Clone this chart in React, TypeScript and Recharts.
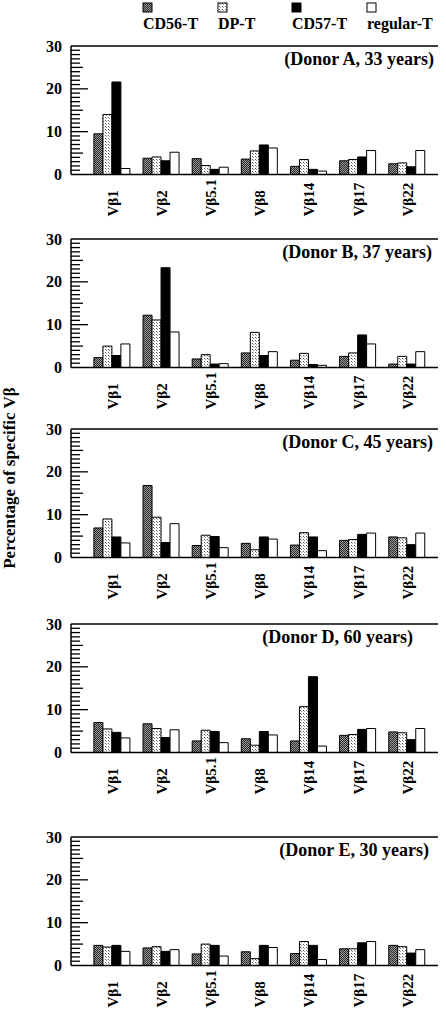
import React from 'react'
import { BarChart, Bar, XAxis, YAxis, ReferenceLine } from 'recharts'

const categories = ['Vβ1', 'Vβ2', 'Vβ5.1', 'Vβ8', 'Vβ14', 'Vβ17', 'Vβ22']
const seriesNames = ['CD56-T', 'DP-T', 'CD57-T', 'regular-T']
const donorLabels = [
  '(Donor A, 33 years)',
  '(Donor B, 37 years)',
  '(Donor C, 45 years)',
  '(Donor D, 60 years)',
  '(Donor E, 30 years)',
]
const yTickLabels = [0, 10, 20, 30]
const innerTicks = [
  1, 2, 3, 4, 5, 6, 7, 8, 9, 10, 11, 12, 13, 14, 15, 16, 17, 18, 19, 20, 21, 22, 23, 24, 25, 26, 27, 28, 29,
]

// percentage of specific Vβ, one array per donor and cell type
const aCD56 = [9.5, 3.8, 3.7, 3.6, 1.9, 3.2, 2.5]
const aDP = [14.0, 4.1, 2.1, 5.5, 3.5, 3.5, 2.7]
const aCD57 = [21.6, 3.2, 1.2, 6.9, 1.2, 4.1, 1.8]
const aReg = [1.4, 5.2, 1.7, 6.2, 0.8, 5.6, 5.6]

const bCD56 = [2.3, 12.2, 2.0, 3.4, 1.7, 2.6, 0.8]
const bDP = [5.0, 11.1, 3.0, 8.2, 3.3, 3.4, 2.6]
const bCD57 = [2.8, 23.3, 0.8, 2.8, 0.7, 7.6, 0.8]
const bReg = [5.5, 8.3, 0.9, 3.7, 0.5, 5.5, 3.7]

const cCD56 = [6.9, 16.8, 2.8, 3.3, 2.9, 4.0, 4.8]
const cDP = [9.0, 9.4, 5.2, 1.8, 5.8, 4.2, 4.6]
const cCD57 = [4.8, 3.5, 4.9, 4.8, 4.8, 5.4, 3.0]
const cReg = [3.4, 7.9, 2.3, 4.3, 1.6, 5.7, 5.7]

const dCD56 = [7.0, 6.7, 2.7, 3.2, 2.7, 4.0, 4.8]
const dDP = [5.5, 5.6, 5.2, 1.7, 10.7, 4.2, 4.6]
const dCD57 = [4.7, 3.5, 4.9, 4.9, 17.7, 5.4, 3.0]
const dReg = [3.4, 5.3, 2.3, 4.1, 1.5, 5.6, 5.6]

const eCD56 = [4.7, 4.1, 2.7, 3.2, 2.8, 3.9, 4.7]
const eDP = [4.3, 4.4, 5.0, 1.6, 5.6, 3.9, 4.4]
const eCD57 = [4.7, 3.3, 4.7, 4.7, 4.7, 5.3, 2.9]
const eReg = [3.3, 3.7, 2.2, 4.2, 1.4, 5.6, 3.7]

const donors = [
  [aCD56, aDP, aCD57, aReg],
  [bCD56, bDP, bCD57, bReg],
  [cCD56, cDP, cCD57, cReg],
  [dCD56, dDP, dCD57, dReg],
  [eCD56, eDP, eCD57, eReg],
]

// layout
const FONT = "'Liberation Serif', 'Times New Roman', serif"
const W = 446
const PLOT_H = 128.5
const TOP_PAD = 10
const plotTops = [45.7, 239, 429.3, 624, 836.7]
const donorLabelRight = [434, 432, 433, 413, 429]
const fills = ['url(#patCD56)', 'url(#patDP)', '#000', '#fff']
const keys = ['s0', 's1', 's2', 's3']
const legendX = [143, 218, 292, 367]

function tickLen(v: number) {
  if (v % 10 === 0) return 17
  if (v % 5 === 0) return 12
  return 9
}

function YTick(props: any) {
  const x = Number(props.x)
  const y = Number(props.y)
  return (
    <text x={x} y={y} dy="0.35em" textAnchor="end" fontFamily={FONT} fontWeight="bold" fontSize={16} fill="#000">
      {props.payload.value}
    </text>
  )
}

function XTick(props: any) {
  const x = Number(props.x)
  const ty = Number(props.y) + 42
  return (
    <text
      x={x}
      y={ty}
      dy="0.35em"
      transform={`rotate(-90 ${x} ${ty})`}
      textAnchor="start"
      fontFamily={FONT}
      fontWeight="bold"
      fontSize={15}
      fill="#000"
    >
      {props.payload.value}
    </text>
  )
}

function Panel({ idx }: { idx: number }) {
  const series = donors[idx]
  const data = categories.map((name, i) => ({
    name,
    s0: series[0][i],
    s1: series[1][i],
    s2: series[2][i],
    s3: series[3][i],
  }))
  return (
    <div style={{ position: 'absolute', left: 0, top: plotTops[idx] - TOP_PAD }}>
      <BarChart
        width={W}
        height={TOP_PAD + PLOT_H + 70}
        data={data}
        margin={{ top: TOP_PAD, right: 8, bottom: 0, left: 0 }}
        barCategoryGap="12%"
        barGap={0}
      >
        <XAxis
          dataKey="name"
          height={70}
          padding={{ left: 17, right: 6 }}
          interval={0}
          tickLine={false}
          tickSize={0}
          tickMargin={0}
          axisLine={{ stroke: '#000', strokeWidth: 1.5 }}
          tick={<XTick />}
        />
        <YAxis
          yAxisId="v"
          width={71}
          domain={[0, 30]}
          ticks={yTickLabels}
          interval={0}
          allowDataOverflow
          tickLine={false}
          tickSize={0}
          tickMargin={9}
          axisLine={{ stroke: '#000', strokeWidth: 1.5 }}
          tick={(p: any) => <YTick {...p} />}
        />
        <YAxis
          yAxisId="r"
          orientation="right"
          width={0}
          domain={[0, 30]}
          tick={false}
          tickLine={false}
          axisLine={{ stroke: '#000', strokeWidth: 1.5 }}
        />
        <ReferenceLine yAxisId="v" y={30} stroke="#000" strokeWidth={1.5} />
        {/* inward tick marks on the left edge */}
        {innerTicks.map((v) => (
          <ReferenceLine
            key={`t${v}`}
            yAxisId="v"
            y={v}
            stroke="#000"
            strokeWidth={1.3}
            shape={(p: any) => {
              const x0 = Math.min(Number(p.x1), Number(p.x2))
              const yy = Number(p.y1)
              return <path d={`M${x0},${yy}h${tickLen(v)}`} stroke="#000" strokeWidth={1.3} fill="none" />
            }}
          />
        ))}
        {keys.map((k, i) => (
          <Bar
            key={k}
            yAxisId="v"
            dataKey={k}
            name={seriesNames[i]}
            fill={fills[i]}
            stroke="#000"
            strokeWidth={1}
            isAnimationActive={false}
          />
        ))}
      </BarChart>
    </div>
  )
}

export default function App() {
  return (
    <div style={{ position: 'absolute', left: 0, top: 0, width: W, height: 1013, background: '#fff' }}>
      <svg width={W} height={1013} style={{ position: 'absolute', left: 0, top: 0 }}>
        <defs>
          <pattern id="patCD56" width={2} height={2} patternUnits="userSpaceOnUse">
            <rect width={2} height={2} fill="#2a2a2a" />
            <rect x={0} y={0} width={1} height={1} fill="#9a9a9a" />
            <rect x={1} y={1} width={1} height={1} fill="#9a9a9a" />
          </pattern>
          <pattern id="patDP" width={3} height={3} patternUnits="userSpaceOnUse">
            <rect width={3} height={3} fill="#fff" />
            <rect x={0} y={0} width={1} height={1} fill="#555" />
            <rect x={1} y={1} width={1} height={1} fill="#999" />
          </pattern>
        </defs>
        {seriesNames.map((s, i) => (
          <g key={s}>
            <rect x={legendX[i]} y={3} width={9} height={9} fill={fills[i]} stroke="#000" strokeWidth={1} />
            <text x={legendX[i]} y={28.5} fontFamily={FONT} fontWeight="bold" fontSize={16} fill="#000">
              {s}
            </text>
          </g>
        ))}
        <text
          x={14.5}
          y={478}
          transform="rotate(-90 14.5 478)"
          textAnchor="middle"
          fontFamily={FONT}
          fontWeight="bold"
          fontSize={17}
          fill="#000"
        >
          Percentage of specific Vβ
        </text>
      </svg>
      {donorLabels.map((_, i) => (
        <Panel key={i} idx={i} />
      ))}
      <svg width={W} height={1013} style={{ position: 'absolute', left: 0, top: 0, pointerEvents: 'none' }}>
        {donorLabels.map((t, i) => (
          <text
            key={t}
            x={donorLabelRight[i]}
            y={plotTops[i] + 19}
            textAnchor="end"
            fontFamily={FONT}
            fontWeight="bold"
            fontSize={18}
            fill="#000"
          >
            {t}
          </text>
        ))}
      </svg>
    </div>
  )
}
